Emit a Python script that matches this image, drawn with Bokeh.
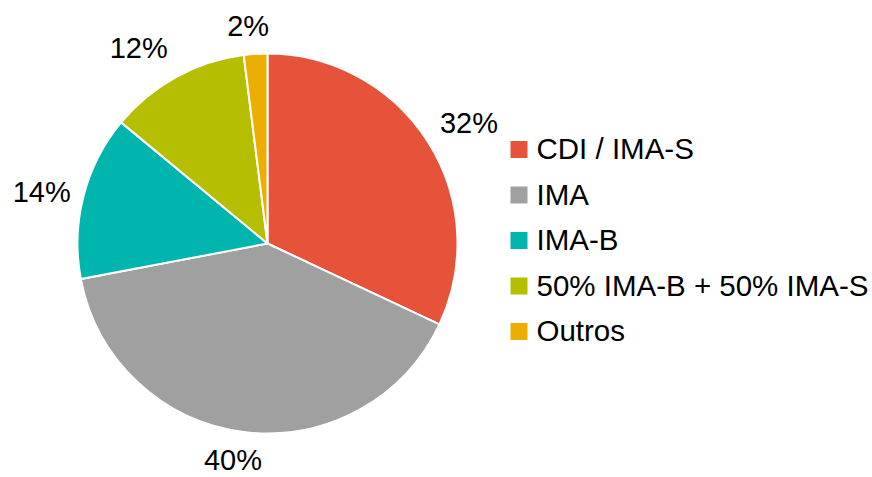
import math
from bokeh.plotting import figure
from bokeh.models import Range1d, ColumnDataSource
from bokeh.core.properties import value
from bokeh.embed import file_html
from bokeh.resources import INLINE

# ---- data ----
categories = ["CDI / IMA-S", "IMA", "IMA-B", "50% IMA-B + 50% IMA-S", "Outros"]
shares = [32, 40, 14, 12, 2]
labels = ["32%", "40%", "14%", "12%", "2%"]
colors = ["#E6533A", "#A0A0A0", "#00B5AE", "#B5BE00", "#ECAE00"]

# ---- style / layout (page pixel coordinates) ----
W, H = 872, 477
PAGE_H = 477
CX, CY, R = 267, 243, 190
LAB_R = 228
nudges = [(9, 1), (-6, -11), (-5, 4), (-19, 3), (-5, 9)]
FONT = "Liberation Sans"


def py(y):
    return PAGE_H - y


total = sum(shares)
starts, ends, lx, ly = [], [], [], []
cum = 0
for i, s in enumerate(shares):
    a0 = math.pi / 2 - 2 * math.pi * cum / total
    a1 = math.pi / 2 - 2 * math.pi * (cum + s) / total
    starts.append(a0)
    ends.append(a1)
    mid = (cum + s / 2) / total * 2 * math.pi
    x = CX + LAB_R * math.sin(mid) + nudges[i][0]
    y = CY - LAB_R * math.cos(mid) + nudges[i][1] + 1
    lx.append(x)
    ly.append(py(y))
    cum += s

p = figure(width=W, height=H, output_backend="svg", toolbar_location=None,
           x_range=Range1d(0, W), y_range=Range1d(PAGE_H - H, PAGE_H),
           min_border=0)
p.axis.visible = False
p.grid.visible = False
p.outline_line_color = None
p.background_fill_color = "white"
p.border_fill_color = "white"

src = ColumnDataSource(dict(start=starts, end=ends, color=colors))
p.wedge(x=CX, y=py(CY), radius=R, start_angle="start", end_angle="end",
        direction="clock", fill_color="color", line_color="white", line_width=2,
        source=src)

p.text(x=lx, y=ly, text=labels, text_font=value(FONT), text_font_size="29px",
       text_align="center", text_baseline="middle", text_color="#000000")

# legend
LEG_X, LEG_Y0, LEG_DY, SQ = 518.5, 149, 45.5, 17
leg_y = [py(LEG_Y0 + i * LEG_DY) for i in range(len(categories))]
p.rect(x=[LEG_X] * len(categories), y=leg_y, width=SQ, height=SQ,
       fill_color=colors, line_color=None)
p.text(x=[536] * len(categories), y=[v + 1 for v in leg_y], text=categories,
       text_font=value(FONT), text_font_size="29.5px", text_align="left",
       text_baseline="middle", text_color="#000000")

open("out.html", "w").write(file_html(p, INLINE))
